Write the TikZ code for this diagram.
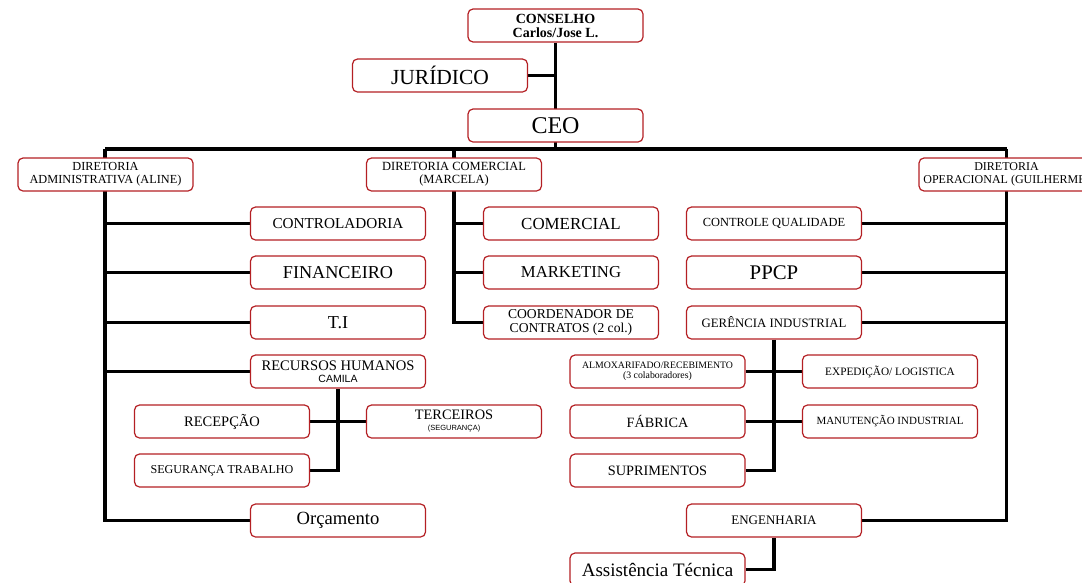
\documentclass[tikz,border=0pt]{standalone}
\usepackage{fontspec}
\setmainfont{Liberation Serif}
\newfontfamily\sansf{Liberation Sans}
\usetikzlibrary{backgrounds}
\definecolor{boxred}{RGB}{180,32,36}
\newcommand{\fs}[1]{\fontsize{#1}{\dimexpr #1pt*118/100\relax}\selectfont}
\tikzset{
  box/.style={draw=boxred, line width=1.2pt, rounded corners=5pt, fill=white,
    minimum width=175pt, minimum height=33pt, inner sep=1pt, align=center, text=black},
  conn/.style={line width=3.2pt, draw=black},
}
\begin{document}
\begin{tikzpicture}[x=1pt,y=-1pt]
\useasboundingbox (0,0) rectangle (1082,582);
% nodes
\node[box, font=\fs{14}\bfseries] (consel) at (555.5,25.5) {CONSELHO\\[-2.5pt]Carlos/Jose L.};
\node[box, font=\fs{21.5}] (jur) at (440,75.5) {JURÍDICO};
\node[box, font=\fs{24}] (ceo) at (555.5,125.5) {CEO};
\node[box, font=\fs{12.3}] (dadm) at (105.5,174.5) {DIRETORIA\\[-1.5pt]ADMINISTRATIVA (ALINE)};
\node[box, font=\fs{12.5}] (dcom) at (454,174.5) {DIRETORIA COMERCIAL\\[-1.75pt](MARCELA)};
\node[box, font=\fs{12}] (dop) at (1006.5,174.5) {DIRETORIA\\[-1pt]OPERACIONAL (GUILHERME)};

\node[box, font=\fs{15.2}] (ctrl) at (338,223.5) {CONTROLADORIA};
\node[box, font=\fs{18.2}] (fin) at (338,272.5) {FINANCEIRO};
\node[box, font=\fs{18.2}] (ti) at (338,322.5) {T.I};
\node[box, font=\fs{14.6}] (rh) at (338,371.5) {RECURSOS HUMANOS\\[-5pt]{\sansf\fs{10.5}CAMILA}};
\node[box, font=\fs{18.6}] (orc) at (338,520.5) {Orçamento};

\node[box, font=\fs{16.9}] (com) at (571,223.5) {COMERCIAL};
\node[box, font=\fs{16.7}] (mkt) at (571,272.5) {MARKETING};
\node[box, font=\fs{13.6}] (coord) at (571,322.5) {COORDENADOR DE\\[-2pt]CONTRATOS (2 col.)};

\node[box, font=\fs{12.4}] (cq) at (774,223.5) {CONTROLE QUALIDADE};
\node[box, font=\fs{20.8}] (ppcp) at (774,272.5) {PPCP};
\node[box, font=\fs{12.8}] (ger) at (774,322.5) {GERÊNCIA INDUSTRIAL};
\node[box, font=\fs{13}] (eng) at (774,520.5) {ENGENHARIA};

\node[box, font=\fs{14.5}] (rec) at (222,421.5) {RECEPÇÃO};
\node[box, font=\fs{14.4}] (terc) at (454,421.5) {TERCEIROS\\[-6pt]{\sansf\fs{7.5}(SEGURANÇA)}};
\node[box, font=\fs{12.1}] (seg) at (222,470.5) {SEGURANÇA TRABALHO};

\node[box, font=\fs{9.8}] (alm) at (657.5,371.5) {ALMOXARIFADO/RECEBIMENTO\\[-1.5pt](3 colaboradores)};
\node[box, font=\fs{11.3}] (exp) at (890,371.5) {EXPEDIÇÃO/ LOGISTICA};
\node[box, font=\fs{14.2}] (fab) at (657.5,421.5) {FÁBRICA};
\node[box, font=\fs{11}] (man) at (890,421.5) {MANUTENÇÃO INDUSTRIAL};
\node[box, font=\fs{14.3}] (sup) at (657.5,470.5) {SUPRIMENTOS};
\node[box, font=\fs{19}] (ass) at (657.5,569.5) {Assistência Técnica};

% connectors
\begin{scope}[on background layer]
\coordinate (busL) at (105,149);
\coordinate (busR) at (1006.5,149);
\draw[conn] (busL) -- (busR);
\draw[conn] (consel.south) -- (consel.south |- busL);
\draw[conn] (jur.east) -- (jur.east -| consel.south);
% admin
\draw[conn] (busL) -- (busL |- orc) -- (orc.west);
\foreach \n in {ctrl,fin,ti,rh} \draw[conn] (busL |- \n.west) -- (\n.west);
% commercial
\draw[conn] (dcom.north |- busL) -- (dcom.north |- coord) -- (coord.west);
\foreach \n in {com,mkt} \draw[conn] (dcom.north |- \n.west) -- (\n.west);
% operational
\draw[conn] (busR) -- (busR |- eng) -- (eng.east);
\foreach \n in {cq,ppcp,ger} \draw[conn] (busR |- \n.east) -- (\n.east);
% RH subtree
\draw[conn] (rh.south) -- (rh.south |- seg) -- (seg.east);
\draw[conn] (rec.east) -- (terc.west);
% Gerencia subtree
\draw[conn] (ger.south) -- (ger.south |- sup) -- (sup.east);
\draw[conn] (alm.east) -- (exp.west);
\draw[conn] (fab.east) -- (man.west);
% Engenharia subtree
\draw[conn] (eng.south) -- (eng.south |- ass) -- (ass.east);
\end{scope}
\end{tikzpicture}
\end{document}
